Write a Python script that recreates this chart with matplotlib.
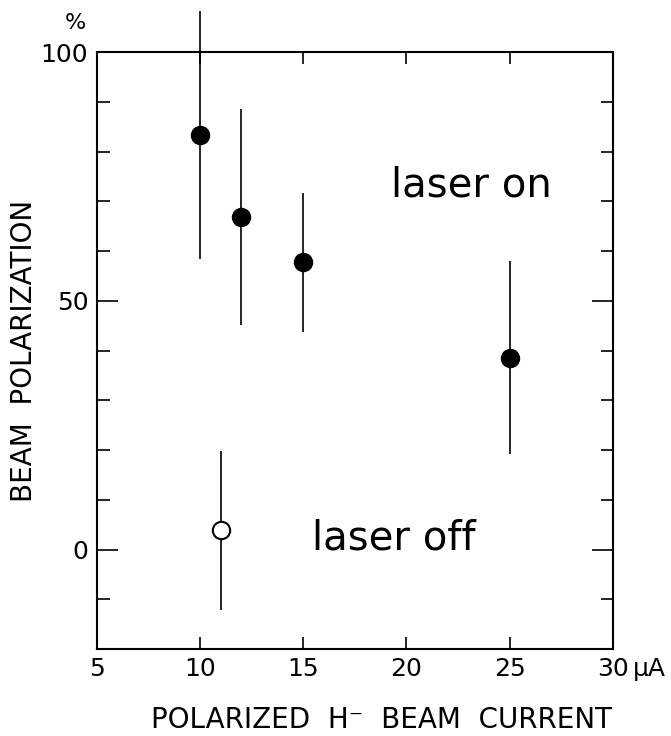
import numpy as np
import matplotlib
matplotlib.use("Agg")
import matplotlib.pyplot as plt

# beam current (uA) and polarization (%)
current_on = [10, 12, 15, 25]
pol_on = [83.3, 66.8, 57.7, 38.5]
err_on = [25, 21.7, 14, 19.4]

current_off = [11]
pol_off = [3.9]
err_off = [16]

xtick_vals = [5, 10, 15, 20, 25, 30]
xtick_labels = ["5", "10", "15", "20", "25", "30"]
ytick_vals = [0, 50, 100]
ytick_minor = [-10, 10, 20, 30, 40, 60, 70, 80, 90]

plt.rcParams['font.family'] = ['DejaVu Sans']

fig = plt.figure(figsize=(6.71, 7.36), dpi=100)
ax = fig.add_axes([0.1441, 0.1182, 0.7695, 0.8111])

# laser on: filled circles
ax.errorbar(current_on, pol_on, yerr=err_on, fmt='o', color='black',
            markersize=13, elinewidth=1.2, capsize=0, clip_on=False, zorder=3)
# laser off: open circle
ax.errorbar(current_off, pol_off, yerr=err_off, fmt='o', color='black',
            markerfacecolor='white', markeredgewidth=1.5,
            markersize=12.5, elinewidth=1.2, capsize=0, clip_on=False, zorder=3)

ax.set_xlim(5, 30)
ax.set_ylim(-20, 100)

ax.set_xticks(xtick_vals)
ax.set_xticklabels(xtick_labels)
ax.set_yticks(ytick_vals)
ax.set_yticks(ytick_minor, minor=True)

ax.tick_params(axis='both', which='both', direction='in', top=True, right=True,
               width=1.2, labelsize=18)
ax.tick_params(axis='y', which='major', length=15, pad=6)
ax.tick_params(axis='y', which='minor', length=9)
ax.tick_params(axis='x', which='major', length=8.5, pad=6)

for s in ax.spines.values():
    s.set_linewidth(1.5)

# units on axis ends
ax.annotate("µA", xy=(30, -20), xytext=(14, -6), textcoords='offset points',
            ha='left', va='top', fontsize=18, annotation_clip=False)
ax.annotate("%", xy=(5, 100), xytext=(-15, 14), textcoords='offset points',
            ha='center', va='bottom', fontsize=16, annotation_clip=False)

ax.text(23.16, 71.0, "laser on", fontsize=29, ha='center', va='baseline')
ax.text(19.37, 0.1, "laser off", fontsize=29, ha='center', va='baseline')

ax.set_ylabel("BEAM  POLARIZATION", fontsize=20, labelpad=2)
ax.set_xlabel("POLARIZED  H⁻  BEAM  CURRENT", fontsize=20, labelpad=16)
ax.xaxis.set_label_coords(0.552, -0.095)

fig.savefig("out.png", dpi=100)
